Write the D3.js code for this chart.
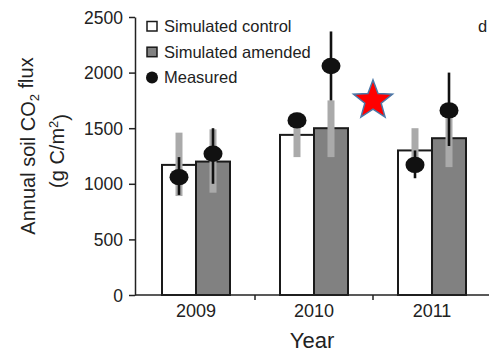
<!DOCTYPE html>
<html>
<head>
<meta charset="utf-8">
<script src="https://cdn.jsdelivr.net/npm/d3@7"></script>
<style>
  body { margin: 0; background: #fff; }
  text { font-family: "Liberation Sans", Arial, sans-serif; fill: #222; }
</style>
</head>
<body>
<div id="chart"></div>
<script>
var years = ['2009', '2010', '2011']
var yTicks = [0, 500, 1000, 1500, 2000, 2500]

// simulated (bars + light grey ranges)
var simControl = [1170, 1440, 1300]
var simControlLo = [890, 1240, 1100]
var simControlHi = [1460, 1640, 1500]
var simAmended = [1200, 1500, 1410]
var simAmendedLo = [920, 1240, 1150]
var simAmendedHi = [1490, 1750, 1590]

// measured (black dots + whiskers)
var measControl = [1060, 1570, 1170]
var measControlLo = [900, 1510, 1050]
var measControlHi = [1240, 1630, 1300]
var measAmended = [1270, 2060, 1660]
var measAmendedLo = [1000, 1750, 1340]
var measAmendedHi = [1500, 2370, 2000]

var width = 489, height = 352

var svg = d3.select("#chart")
  .append("svg")
    .attr("width", width)
    .attr("height", height)

var x = d3.scaleBand()
    .domain(years)
    .range([137, 491])

var sub = d3.scaleBand()
    .domain(['control', 'amended'])
    .range([-34, 34])

var y = d3.scaleLinear()
    .domain([0, 2500])
    .range([295, 17])

// build rows from the arrays
var rows = []
years.forEach(function(yr, i) {
  rows.push({year: yr, kind: 'control', sim: simControl[i], lo: simControlLo[i], hi: simControlHi[i],
             m: measControl[i], mlo: measControlLo[i], mhi: measControlHi[i]})
  rows.push({year: yr, kind: 'amended', sim: simAmended[i], lo: simAmendedLo[i], hi: simAmendedHi[i],
             m: measAmended[i], mlo: measAmendedLo[i], mhi: measAmendedHi[i]})
})
function cx(d) { return x(d.year) + x.bandwidth() / 2 + sub(d.kind) + sub.bandwidth() / 2 }

// bars
svg.selectAll("bars")
  .data(rows)
  .enter()
  .append("rect")
    .attr("x", function(d){ return x(d.year) + x.bandwidth() / 2 + sub(d.kind) })
    .attr("width", sub.bandwidth())
    .attr("y", function(d){ return y(d.sim) })
    .attr("height", function(d){ return y(0) - y(d.sim) })
    .attr("fill", function(d){ return d.kind == 'control' ? '#fff' : '#818181' })
    .attr("stroke", "#1a1a1a")
    .attr("stroke-width", 2)

// simulated range (light grey)
svg.selectAll("simRange")
  .data(rows)
  .enter()
  .append("line")
    .attr("x1", cx).attr("x2", cx)
    .attr("y1", function(d){ return y(d.lo) })
    .attr("y2", function(d){ return y(d.hi) })
    .attr("stroke", "#aaaaaa")
    .attr("stroke-width", 7)

// measured whiskers
svg.selectAll("measRange")
  .data(rows)
  .enter()
  .append("line")
    .attr("x1", cx).attr("x2", cx)
    .attr("y1", function(d){ return y(d.mlo) })
    .attr("y2", function(d){ return y(d.mhi) })
    .attr("stroke", "#111")
    .attr("stroke-width", 2.6)

// measured points
svg.selectAll("measDots")
  .data(rows)
  .enter()
  .append("ellipse")
    .attr("cx", cx)
    .attr("cy", function(d){ return y(d.m) })
    .attr("rx", 9.5)
    .attr("ry", 8.2)
    .attr("fill", "#111")

// y axis
var yAxis = svg.append("g")
    .attr("transform", "translate(135,0)")
    .call(d3.axisLeft(y).tickValues(yTicks).tickFormat(d3.format("d"))
      .tickSize(6).tickPadding(6).tickSizeOuter(0))
yAxis.select(".domain").attr("stroke", "#222").attr("stroke-width", 1.5)
yAxis.selectAll(".tick line").attr("stroke", "#222").attr("stroke-width", 1.5)
yAxis.selectAll(".tick text").style("font-size", "17.5px").attr("dy", "0.35em").attr("fill", "#2a2a2a")

// x axis: labels at centers, ticks at band edges
var xAxis = svg.append("g")
    .attr("transform", "translate(0,295)")
    .call(d3.axisBottom(x).tickSize(0).tickPadding(9))
xAxis.select(".domain").remove()
xAxis.selectAll(".tick text").style("font-size", "18px").attr("dy", "0.71em").attr("fill", "#2a2a2a")
svg.append("line")
    .attr("x1", 135).attr("x2", width)
    .attr("y1", y(0)).attr("y2", y(0))
    .attr("stroke", "#222").attr("stroke-width", 1.5)
svg.selectAll("xEdges")
  .data(years.slice(1))
  .enter()
  .append("line")
    .attr("x1", function(d){ return x(d) }).attr("x2", function(d){ return x(d) })
    .attr("y1", y(0)).attr("y2", y(0) + 5)
    .attr("stroke", "#222").attr("stroke-width", 1.5)

// axis titles
svg.append("text")
    .attr("x", 312).attr("y", 348)
    .attr("text-anchor", "middle")
    .style("font-size", "22px")
    .text("Year")

var yl = svg.append("text")
    .attr("transform", "translate(35,146) rotate(-90)")
    .attr("text-anchor", "middle")
    .style("font-size", "20px")
yl.append("tspan").text("Annual soil CO")
yl.append("tspan").attr("dy", "0.3em").style("font-size", "13px").text("2")
yl.append("tspan").attr("dy", "-0.3em").text(" flux")

var yl2 = svg.append("text")
    .attr("transform", "translate(64,151) rotate(-90)")
    .attr("text-anchor", "middle")
    .style("font-size", "20px")
yl2.append("tspan").text("(g C/m")
yl2.append("tspan").attr("dy", "-0.5em").style("font-size", "13px").text("2")
yl2.append("tspan").attr("dy", "0.5em").text(")")

// legend
var legend = [
  {label: "Simulated control", type: "rect", fill: "#fff"},
  {label: "Simulated amended", type: "rect", fill: "#818181"},
  {label: "Measured", type: "dot", fill: "#111"}
]
legend.forEach(function(l, i) {
  var cy = 26 + i * 25.7
  if (l.type == "rect") {
    svg.append("rect")
        .attr("x", 147).attr("y", cy - 4.5)
        .attr("width", 10).attr("height", 9.5)
        .attr("fill", l.fill).attr("stroke", "#1a1a1a").attr("stroke-width", 1.5)
  } else {
    svg.append("circle")
        .attr("cx", 152).attr("cy", cy).attr("r", 6)
        .attr("fill", l.fill)
  }
  svg.append("text")
      .attr("x", 164).attr("y", cy + 6)
      .style("font-size", "16.5px")
      .text(l.label)
})

// panel letter (cut off at right edge)
svg.append("text")
    .attr("x", 478).attr("y", 32)
    .style("font-size", "16.5px")
    .text("d")

// red star marker
var star = []
for (var k = 0; k < 10; k++) {
  var r = k % 2 == 0 ? 20.5 : 8.6
  var a = -Math.PI / 2 + k * Math.PI / 5
  star.push([373 + r * Math.cos(a), 100.5 + r * Math.sin(a)])
}
svg.append("path")
    .attr("d", d3.line()(star) + "Z")
    .attr("fill", "#ff0000")
    .attr("stroke", "#4a78a8")
    .attr("stroke-width", 1.5)
</script>
</body>
</html>
